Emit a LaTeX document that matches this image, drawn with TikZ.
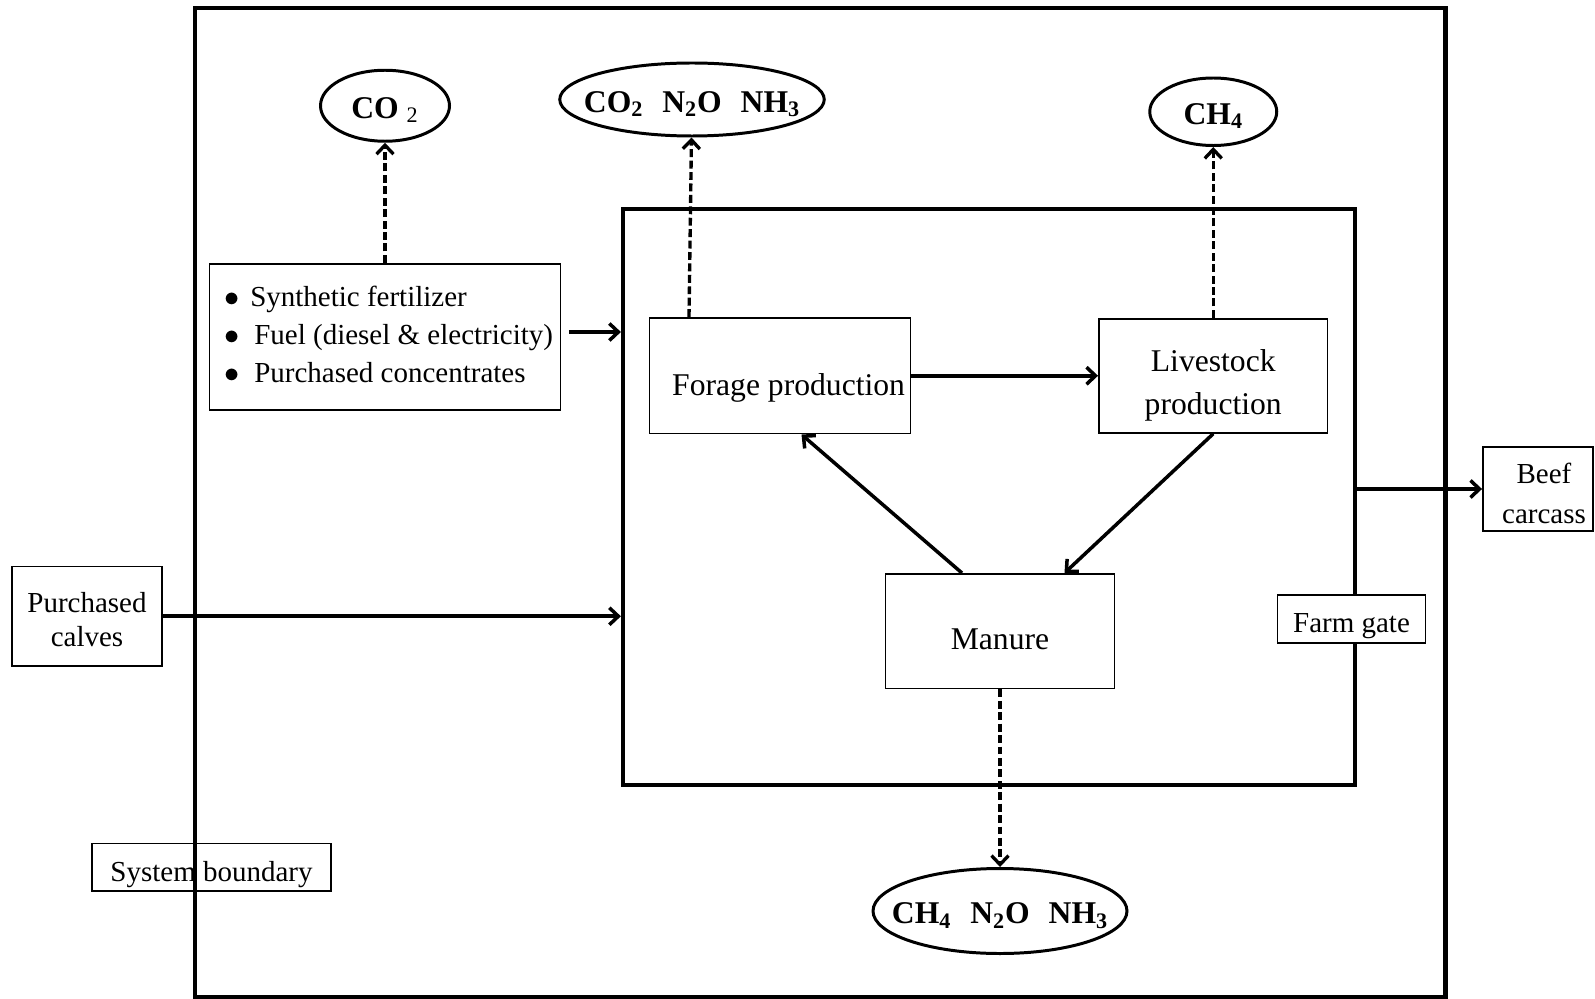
\documentclass[tikz,border=0pt]{standalone}
\usepackage{fontspec}
\setmainfont{Liberation Serif}
\usetikzlibrary{arrows.meta, positioning, shapes.geometric}
\newcommand{\gasname}[1]{\makebox[0pt]{#1}}
\tikzset{on grid,
         >= {Straight Barb[length=1.8mm, width=3.4mm]},
         every node/.style = {font=\fontsize{16.5}{20}\selectfont},
         box/.style = {draw, line width=1.1pt, inner sep=0pt, align=center},
         stage/.style = {box, font=\fontsize{18}{24.4}\selectfont},
         gas/.style = {ellipse, draw, line width=1.7pt, inner sep=0pt, text height=17pt,
                       font=\fontsize{18}{20}\selectfont\bfseries},
         flow/.style = {->, line width=2pt},
         emit/.style = {->, line width=1.9pt, dash pattern=on 4.5pt off 2pt},
         limit/.style = {draw, line width=2.4pt}}

\begin{document}
\begin{tikzpicture}
        \useasboundingbox (0,0) rectangle (31.9,19.96);
        \draw[limit] (3.90,0.02) rectangle (28.91,19.80);
        \node[limit, minimum width=14.64cm, minimum height=11.52cm] (farm) at (19.78,10.02) {};

        \node[draw, line width=1.1pt, inner sep=0pt, minimum width=7.02cm, minimum height=2.93cm,
              font=\fontsize{16.5}{21.8}\selectfont] (inputs) at (7.70,13.22)
             {\begin{tabular}{@{\hspace{0.14cm}}l@{}}
              $\bullet$\hspace{6.3pt}Synthetic fertilizer\\
              $\bullet$\hspace{8.6pt}Fuel (diesel \& electricity)\\
              $\bullet$\hspace{8.6pt}Purchased concentrates
              \end{tabular}};
        \node[stage, minimum width=5.22cm, minimum height=2.31cm, text width=5.0cm, align=flush right,
              text height=26pt]                         (forage)    at (15.60,12.445) {Forage production};
        \node[stage, minimum width=4.57cm, minimum height=2.28cm,
              text height=48pt]                         (livestock) [right = 8.665cm of forage] {Livestock\\production};
        \node[stage, minimum width=4.58cm, minimum height=2.29cm,
              text height=21pt]                         (manure)    at (20.00,7.335) {Manure};
        \node[box, minimum width=3.00cm, minimum height=1.99cm, text height=34.4pt,
              font=\fontsize{16.5}{19.3}\selectfont]   (calves)    at (1.74,7.635)  {Purchased\\calves};
        \node[box, minimum width=2.20cm, minimum height=1.68cm, text height=39pt,
              font=\fontsize{16.5}{22.7}\selectfont]   (beef)      at (30.76,10.18) {\hspace*{0.24cm}Beef\\\hspace*{0.24cm}carcass};
        \node[box, fill=white, minimum width=2.96cm, minimum height=0.96cm,
              text height=19pt]                         (gate)      at (27.03,7.58)  {Farm gate};
        \node[box, minimum width=4.78cm, minimum height=0.95cm,
              text height=19.3pt]                       (sysbound)  at (4.23,2.615)  {System boundary};

        \node[gas, minimum width=2.58cm, minimum height=1.42cm]   (co2)  [above = 4.625cm of inputs]   {\gasname{CO~\textsubscript{\mdseries 2}}};
        \node[gas, minimum width=5.29cm, minimum height=1.46cm]   (ghgF) at (13.84,17.97)              {\gasname{CO\textsubscript{2}\hspace{0.6em}N\textsubscript{2}O\hspace{0.6em}NH\textsubscript{3}}};
        \node[gas, minimum width=2.54cm, minimum height=1.35cm]   (ch4)  [above = 5.28cm of livestock] {\gasname{CH\textsubscript{4}}};
        \node[gas, minimum width=5.08cm, minimum height=1.70cm]   (ghgM) [below = 5.595cm of manure]   {\gasname{CH\textsubscript{4}\hspace{0.6em}N\textsubscript{2}O\hspace{0.6em}NH\textsubscript{3}}};

        \draw[flow] (calves) -- (calves -| farm.west);
        \draw[flow, shorten <=1.5mm] ([yshift=1mm]inputs.east) -- ([yshift=1mm]inputs.east -| farm.west);
        \draw[flow] (forage) -- (livestock);
        \draw[flow] (livestock.south) -- ([xshift=1.29cm]manure.north);
        \draw[flow] ([xshift=-0.76cm]manure.north) -- ([xshift=0.43cm]forage.south);
        \draw[flow] (farm.east |- beef) -- (beef);

        \draw[emit] (inputs) -- (co2);
        \draw[emit] ([xshift=-1.82cm]forage.north) -- (ghgF);
        \draw[emit] (livestock) -- (ch4);
        \draw[emit] (manure) -- (ghgM);
\end{tikzpicture}
\end{document}
